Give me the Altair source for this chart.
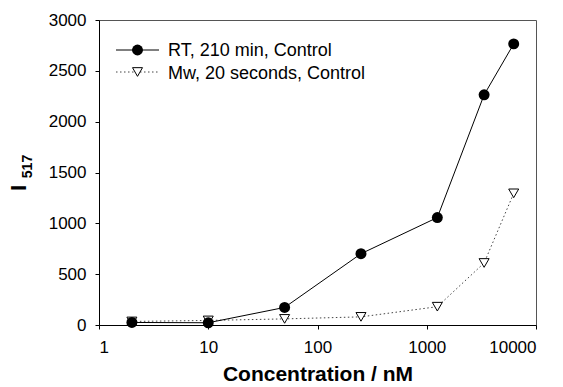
import altair as alt
import pandas as pd

conc = [2, 10, 50, 250, 1250, 3350, 6250]
rt_vals = [25, 22, 173, 701, 1057, 2264, 2765]
mw_vals = [35, 45, 60, 80, 180, 610, 1295]
rt_label = "RT, 210 min, Control"
mw_label = "Mw, 20 seconds, Control"
x_ticks = [1, 10, 100, 1000, 10000]
y_ticks = [0, 500, 1000, 1500, 2000, 2500, 3000]

rt_df = pd.DataFrame({"conc": conc, "val": rt_vals})
mw_df = pd.DataFrame({"conc": conc, "val": mw_vals})
one = pd.DataFrame({"a": [0]})

FONT = "Liberation Sans"

x_enc = alt.X("conc:Q", scale=alt.Scale(type="log", domain=[1, 10000], nice=False),
              axis=alt.Axis(values=x_ticks, format="d", title="Concentration / nM",
                            labelPadding=10, titleFontSize=21, titleFontWeight="bold",
                            titlePadding=8))
y_enc = alt.Y("val:Q", scale=alt.Scale(domain=[0, 3000], nice=False),
              axis=alt.Axis(values=y_ticks, format="d", title=None, labelPadding=9))

rt_line = alt.Chart(rt_df).mark_line(color="black", strokeWidth=1).encode(x=x_enc, y=y_enc)
rt_pts = alt.Chart(rt_df).mark_point(shape="circle", filled=True, color="black", size=120, opacity=1).encode(x=x_enc, y=y_enc)
mw_line = alt.Chart(mw_df).mark_line(color="#444", strokeWidth=1, strokeDash=[1.5, 2.5]).encode(x=x_enc, y=y_enc)
mw_pts = alt.Chart(mw_df).mark_point(shape="triangle-down", filled=True, fill="white", stroke="black",
                                     strokeWidth=1, size=100, opacity=1).encode(x=x_enc, y=y_enc)

# legend
leg_rt_line = alt.Chart(one).mark_rule(color="black", strokeWidth=1).encode(
    x=alt.value(17), x2=alt.value(60), y=alt.value(30))
leg_rt_pt = alt.Chart(one).mark_point(shape="circle", filled=True, color="black", size=120, opacity=1).encode(
    x=alt.value(38.5), y=alt.value(30))
leg_rt_txt = alt.Chart(one).mark_text(align="left", baseline="middle", font=FONT, fontSize=18).encode(
    x=alt.value(69), y=alt.value(31), text=alt.value(rt_label))
leg_mw_line = alt.Chart(one).mark_rule(color="#444", strokeWidth=1, strokeDash=[1.5, 2.5]).encode(
    x=alt.value(17), x2=alt.value(60), y=alt.value(52))
leg_mw_pt = alt.Chart(one).mark_point(shape="triangle-down", filled=True, fill="white", stroke="black",
                                      strokeWidth=1, size=100, opacity=1).encode(
    x=alt.value(38.5), y=alt.value(52))
leg_mw_txt = alt.Chart(one).mark_text(align="left", baseline="middle", font=FONT, fontSize=18).encode(
    x=alt.value(69), y=alt.value(54), text=alt.value(mw_label))

# y title with subscript
ytitle_I = alt.Chart(one).mark_text(angle=270, align="center", baseline="middle", font=FONT,
                                    fontSize=22, fontWeight="bold").encode(
    x=alt.value(-80), y=alt.value(168), text=alt.value("I"))
ytitle_sub = alt.Chart(one).mark_text(angle=270, align="center", baseline="middle", font=FONT,
                                      fontSize=14, fontWeight="bold").encode(
    x=alt.value(-71), y=alt.value(146.5), text=alt.value("517"))

chart = alt.layer(
    mw_line, rt_line, mw_pts, rt_pts,
    leg_rt_line, leg_rt_pt, leg_rt_txt, leg_mw_line, leg_mw_pt, leg_mw_txt,
    ytitle_I, ytitle_sub,
).properties(
    width=437, height=305,
    autosize=alt.AutoSizeParams(type="none"),
    padding={"left": 91, "top": 12, "right": 19, "bottom": 62},
).configure_view(
    stroke="#555", strokeWidth=1
).configure_axis(
    grid=False, domainColor="black", tickColor="black", tickSize=4,
    labelFont=FONT, labelFontSize=17, labelColor="black",
    titleFont=FONT, titleColor="black",
)

chart.save("out.html", embed_options={"renderer": "svg", "actions": False})
